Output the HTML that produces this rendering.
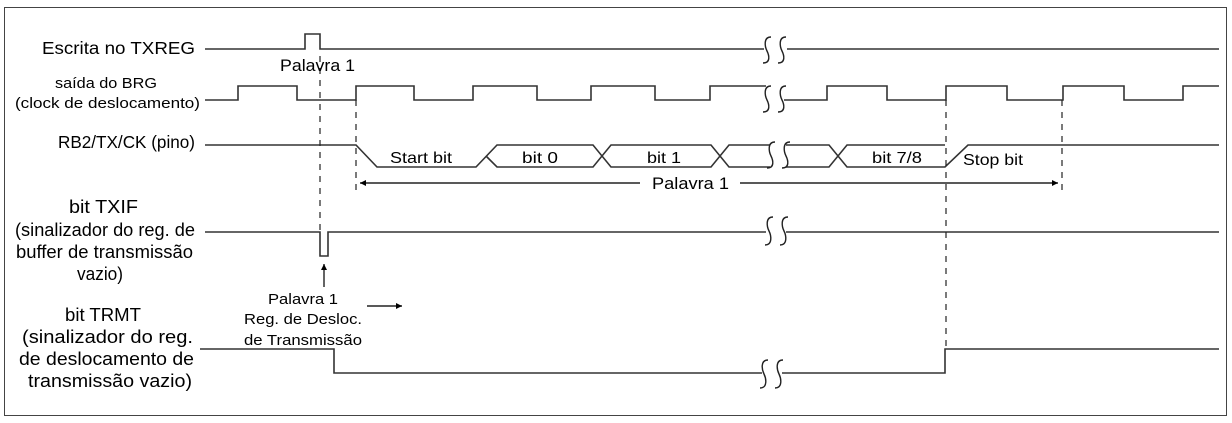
<!DOCTYPE html>
<html><head><meta charset="utf-8"><style>
html,body{margin:0;padding:0;background:#fff;}
svg{display:block;}
text{font-family:"Liberation Sans",Arial,sans-serif;fill:#000;}
</style></head><body>
<svg width="1232" height="423" viewBox="0 0 1232 423" xmlns="http://www.w3.org/2000/svg">
<defs>
<marker id="ah" viewBox="0 0 10 10" refX="10" refY="5" markerWidth="12" markerHeight="6" markerUnits="userSpaceOnUse" orient="auto"><path d="M0,0 L10,5 L0,10 z" fill="#000"/></marker>
</defs>
<rect x="4.5" y="7.5" width="1222" height="408" fill="none" stroke="#444" stroke-width="1"/>
<g stroke="#333" stroke-width="1.6" fill="none">
<path d="M205,49 H305 V34 H320 V49 H764 M787,49 H1219"/>
<path d="M205,100 H238 V86 H297 V100 H356 V86 H414 V100 H473 V86 H537 V100 H591 V86 H655 V100 H710 V86 H766 M784,100 H827 V86 H887 V100 H946 V86 H1007 V100 H1063 V86 H1124 V100 H1183 V86 H1219"/>
<path d="M205,145 H356 L377,167 H476 L497,145 H593 L611,167 H711 L729,145 H770 M786,145 H829 L847,167 H945 L968,145 H1219"/>
<path d="M486,156 L497,167 H593 L611,145 H711 L729,167 H770 M786,167 H829 L847,145 H945"/>
<path d="M205,232 H320 V256 H328 V232 H766 M786,232 H1219"/>
<path d="M200,349 H334 V373 H762 M782,373 H945 V349 H1219"/>
</g>
<g stroke="#222" stroke-width="1.4" fill="none">
<path d="M771,37 C763,37 765,47 767,51 C769,55 771,63 763,63 M786,37 C778,37 780,47 782,51 C784,55 786,63 778,63"/>
<path d="M771,86 C763,86 765,96 767,100 C769,104 771,112 763,112 M786,86 C778,86 780,96 782,100 C784,104 786,112 778,112"/>
<path d="M775,142 C767,142 769,152 771,156 C773,160 775,168 767,168 M790,142 C782,142 784,152 786,156 C788,160 790,168 782,168"/>
<path d="M773,217 C765,217 767,227 769,231 C771,235 773,245 765,245 M788,217 C780,217 782,227 784,231 C786,235 788,245 780,245"/>
<path d="M768,360 C760,360 762,370 764,374 C766,378 768,388 760,388 M783,360 C775,360 777,370 779,374 C781,378 783,388 775,388"/>
</g>
<g stroke="#222" stroke-width="1.2" stroke-dasharray="6,6" fill="none">
<path d="M320,56 V232"/>
<path d="M356,100 V192"/>
<path d="M946,100 V349"/>
<path d="M1062,100 V196"/>
</g>
<g stroke="#222" stroke-width="1.4" fill="none">
<path d="M640,183 H360" marker-end="url(#ah)"/>
<path d="M740,183 H1058" marker-end="url(#ah)"/>
<path d="M324,287 V264" marker-end="url(#ah)"/>
<path d="M367,306 H402" marker-end="url(#ah)"/>
</g>
<g font-size="17.5">
<text x="42" y="54" textLength="153" lengthAdjust="spacingAndGlyphs">Escrita no TXREG</text>
<text x="58" y="148" textLength="137" lengthAdjust="spacingAndGlyphs">RB2/TX/CK (pino)</text>
</g>
<g font-size="14.5" fill="#222">
<text x="55" y="88" textLength="102" lengthAdjust="spacingAndGlyphs">saída do BRG</text>
<text x="15" y="108" textLength="185" lengthAdjust="spacingAndGlyphs">(clock de deslocamento)</text>
</g>
<g font-size="18">
<text x="69" y="213" textLength="69" lengthAdjust="spacingAndGlyphs">bit TXIF</text>
<text x="15" y="236" textLength="180" lengthAdjust="spacingAndGlyphs">(sinalizador do reg. de</text>
<text x="16" y="258" textLength="177" lengthAdjust="spacingAndGlyphs">buffer de transmissão</text>
<text x="77" y="280" textLength="46" lengthAdjust="spacingAndGlyphs">vazio)</text>
<text x="65" y="321" textLength="76" lengthAdjust="spacingAndGlyphs">bit TRMT</text>
<text x="22" y="343" textLength="171" lengthAdjust="spacingAndGlyphs">(sinalizador do reg.</text>
<text x="19" y="365" textLength="175" lengthAdjust="spacingAndGlyphs">de deslocamento de</text>
<text x="28" y="387" textLength="164" lengthAdjust="spacingAndGlyphs">transmissão vazio)</text>
</g>
<g font-size="17">
<text x="280" y="71" textLength="75" lengthAdjust="spacingAndGlyphs">Palavra 1</text>
<text x="652" y="189" textLength="77" lengthAdjust="spacingAndGlyphs">Palavra 1</text>
</g>
<g font-size="16">
<text x="390" y="163" textLength="62" lengthAdjust="spacingAndGlyphs">Start bit</text>
<text x="522" y="163" textLength="36" lengthAdjust="spacingAndGlyphs">bit 0</text>
<text x="647" y="163" textLength="34" lengthAdjust="spacingAndGlyphs">bit 1</text>
<text x="872" y="163" textLength="50" lengthAdjust="spacingAndGlyphs">bit 7/8</text>
<text x="963" y="165" textLength="60" lengthAdjust="spacingAndGlyphs">Stop bit</text>
</g>
<g font-size="14.5" fill="#222">
<text x="268" y="304" textLength="70" lengthAdjust="spacingAndGlyphs">Palavra  1</text>
<text x="244" y="324" textLength="118" lengthAdjust="spacingAndGlyphs">Reg. de Desloc.</text>
<text x="244" y="345" textLength="118" lengthAdjust="spacingAndGlyphs">de Transmissão</text>
</g>
</svg>
</body></html>
